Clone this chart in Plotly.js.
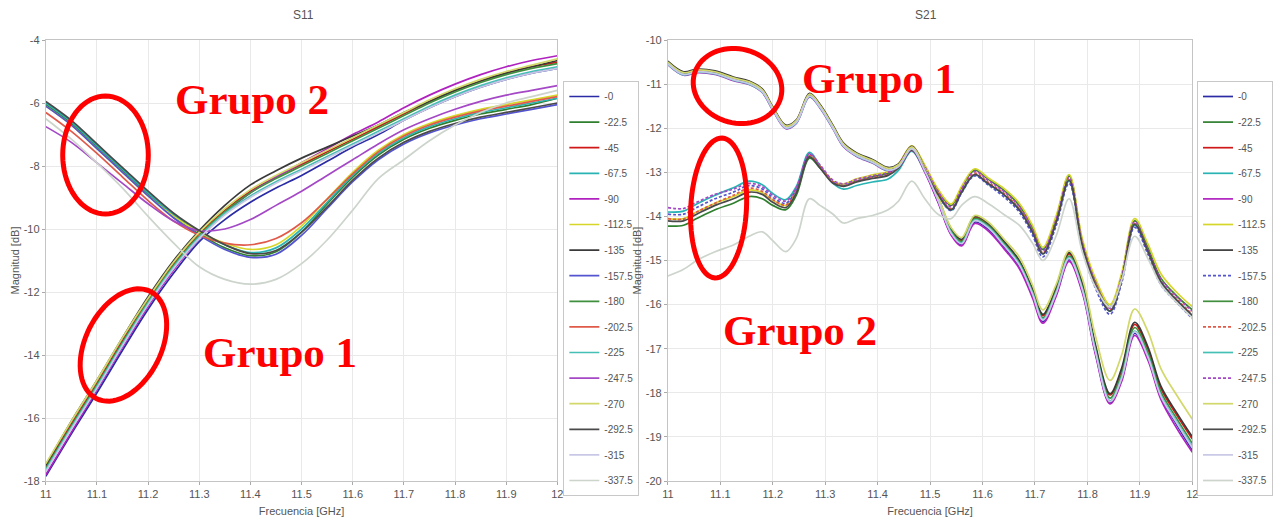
<!DOCTYPE html>
<html>
<head>
<meta charset="utf-8">
<script src="https://cdn.plot.ly/plotly-3.0.1.min.js"></script>
<style>html,body{margin:0;padding:0;background:#fff;}#chart{width:1273px;height:524px;}</style>
</head>
<body>
<div id="chart"></div>
<script>
// ---------- DATA ----------
const seriesNames = ['-0','-22.5','-45','-67.5','-90','-112.5','-135','-157.5','-180','-202.5','-225','-247.5','-270','-292.5','-315','-337.5'];
const seriesColors = ['#2b2ba6','#2f7f2f','#d01818','#2ab3b3','#b022c0','#d6d62a','#3a3a3a','#5454d0','#3f8f3f','#e05a4a','#45c0b5','#a448c6','#d2d86a','#4a4a4a','#c8c8e6','#ccd4cc'];
const s21Dashed = ['-157.5','-202.5','-247.5'];

const xTicks = [11,11.1,11.2,11.3,11.4,11.5,11.6,11.7,11.8,11.9,12];
const xTickText = ['11','11.1','11.2','11.3','11.4','11.5','11.6','11.7','11.8','11.9','12'];
const y11Ticks = [-18,-16,-14,-12,-10,-8,-6,-4];
const y11TickText = ['-18','-16','-14','-12','-10','-8','-6','-4'];
const y21Ticks = [-20,-19,-18,-17,-16,-15,-14,-13,-12,-11,-10];
const y21TickText = ['-20','-19','-18','-17','-16','-15','-14','-13','-12','-11','-10'];

// S11 frequency points (GHz)
const freqS11 = [11.00,11.05,11.10,11.15,11.20,11.25,11.30,11.35,11.40,11.45,11.50,11.55,11.60,11.65,11.70,11.75,11.80,11.85,11.90,11.95,12.00];
const s11_0     = [-17.85,-16.5,-15.2,-13.85,-12.55,-11.4,-10.4,-9.7,-9.15,-8.7,-8.3,-7.85,-7.4,-7.0,-6.55,-6.15,-5.8,-5.5,-5.25,-5.05,-4.9];
const s11_22_5  = [-6.05,-6.65,-7.4,-8.15,-8.9,-9.6,-10.15,-10.6,-10.85,-10.72,-10.1,-9.2,-8.35,-7.65,-7.15,-6.8,-6.55,-6.35,-6.2,-6.05,-5.85];
const s11_45    = [-17.55,-16.2,-14.9,-13.55,-12.25,-11.1,-10.15,-9.4,-8.8,-8.35,-7.95,-7.55,-7.15,-6.75,-6.35,-5.95,-5.6,-5.3,-5.05,-4.85,-4.7];
const s11_67_5  = [-6.0,-6.6,-7.35,-8.1,-8.85,-9.55,-10.1,-10.5,-10.75,-10.6,-10.0,-9.15,-8.3,-7.6,-7.1,-6.75,-6.5,-6.3,-6.15,-6.0,-5.85];
const s11_90    = [-17.8,-16.45,-15.1,-13.75,-12.45,-11.3,-10.3,-9.5,-8.85,-8.35,-7.9,-7.45,-7.0,-6.6,-6.15,-5.75,-5.4,-5.1,-4.85,-4.65,-4.5];
const s11_112_5 = [-6.1,-6.7,-7.45,-8.2,-8.95,-9.6,-10.1,-10.45,-10.65,-10.5,-9.9,-9.05,-8.2,-7.5,-7.0,-6.65,-6.4,-6.2,-6.05,-5.9,-5.75];
const s11_135   = [-17.5,-16.1,-14.8,-13.45,-12.15,-11.0,-10.05,-9.25,-8.6,-8.15,-7.75,-7.4,-7.05,-6.7,-6.3,-5.95,-5.6,-5.3,-5.05,-4.85,-4.65];
const s11_157_5 = [-6.1,-6.7,-7.45,-8.2,-8.95,-9.65,-10.2,-10.65,-10.9,-10.8,-10.2,-9.35,-8.5,-7.8,-7.3,-6.95,-6.7,-6.5,-6.35,-6.2,-6.05];
const s11_180   = [-17.6,-16.25,-14.95,-13.6,-12.3,-11.15,-10.2,-9.45,-8.85,-8.4,-8.0,-7.6,-7.2,-6.8,-6.4,-6.0,-5.65,-5.35,-5.1,-4.9,-4.75];
const s11_202_5 = [-6.3,-6.9,-7.6,-8.35,-9.1,-9.75,-10.2,-10.45,-10.5,-10.3,-9.8,-9.05,-8.25,-7.55,-7.05,-6.7,-6.45,-6.25,-6.1,-5.95,-5.8];
const s11_225   = [-17.65,-16.3,-15.0,-13.65,-12.35,-11.2,-10.25,-9.5,-8.95,-8.5,-8.1,-7.7,-7.3,-6.9,-6.5,-6.1,-5.75,-5.45,-5.2,-5.0,-4.85];
const s11_247_5 = [-6.75,-7.25,-7.9,-8.55,-9.2,-9.75,-10.05,-10.0,-9.7,-9.25,-8.8,-8.3,-7.8,-7.3,-6.85,-6.5,-6.2,-5.95,-5.75,-5.6,-5.45];
const s11_270   = [-17.45,-16.1,-14.8,-13.45,-12.2,-11.05,-10.1,-9.35,-8.75,-8.3,-7.9,-7.5,-7.1,-6.7,-6.3,-5.9,-5.55,-5.25,-5.0,-4.8,-4.6];
const s11_292_5 = [-5.95,-6.55,-7.3,-8.05,-8.8,-9.5,-10.05,-10.5,-10.78,-10.68,-10.1,-9.3,-8.45,-7.75,-7.25,-6.9,-6.65,-6.45,-6.3,-6.15,-6.0];
const s11_315   = [-17.7,-16.35,-15.05,-13.7,-12.4,-11.25,-10.3,-9.55,-9.0,-8.55,-8.15,-7.75,-7.35,-6.95,-6.55,-6.15,-5.8,-5.5,-5.25,-5.05,-4.9];
const s11_337_5 = [-6.5,-7.15,-7.9,-8.7,-9.6,-10.45,-11.2,-11.6,-11.75,-11.6,-11.1,-10.35,-9.4,-8.4,-7.8,-7.2,-6.7,-6.3,-6.0,-5.8,-5.6];

// S21 frequency points (GHz)
const freqS21 = [11.00,11.03,11.055,11.09,11.125,11.155,11.18,11.2,11.225,11.245,11.27,11.29,11.315,11.335,11.36,11.39,11.42,11.44,11.465,11.49,11.515,11.54,11.56,11.585,11.61,11.64,11.67,11.695,11.715,11.74,11.765,11.79,11.815,11.843,11.865,11.89,11.915,11.94,11.97,12.0];
const s21_0     = [-10.52,-10.77,-10.71,-10.75,-10.89,-10.98,-11.16,-11.56,-11.98,-11.86,-11.26,-11.51,-11.99,-12.4,-12.62,-12.77,-12.95,-12.87,-12.47,-12.98,-13.66,-14.4,-14.64,-14.13,-14.28,-14.68,-15.13,-15.78,-16.38,-15.78,-14.98,-15.68,-17.08,-18.22,-17.7,-16.65,-17.2,-18.1,-18.72,-19.3];
const s21_22_5  = [-14.22,-14.2,-14.05,-13.85,-13.7,-13.55,-13.6,-13.75,-13.85,-13.52,-12.68,-12.9,-13.22,-13.3,-13.2,-13.1,-13.02,-12.84,-12.42,-12.86,-13.4,-13.75,-13.35,-12.95,-13.15,-13.4,-13.75,-14.25,-14.75,-14.05,-13.08,-14.55,-15.45,-16.05,-15.35,-14.1,-14.7,-15.4,-15.8,-16.12];
const s21_45    = [-10.5,-10.74,-10.68,-10.72,-10.86,-10.95,-11.13,-11.53,-11.95,-11.83,-11.23,-11.48,-11.96,-12.36,-12.58,-12.73,-12.91,-12.83,-12.43,-12.93,-13.58,-14.32,-14.55,-14.03,-14.18,-14.58,-15.02,-15.66,-16.25,-15.65,-14.85,-15.55,-16.95,-18.05,-17.5,-16.45,-17.0,-17.9,-18.5,-19.05];
const s21_67_5  = [-13.9,-13.88,-13.72,-13.52,-13.35,-13.2,-13.28,-13.48,-13.62,-13.32,-12.55,-12.85,-13.25,-13.38,-13.3,-13.22,-13.15,-12.95,-12.52,-12.98,-13.52,-13.86,-13.46,-13.06,-13.26,-13.5,-13.85,-14.35,-14.85,-14.15,-13.2,-14.65,-15.55,-16.15,-15.45,-14.2,-14.8,-15.5,-15.9,-16.25];
const s21_90    = [-10.56,-10.8,-10.74,-10.78,-10.92,-11.01,-11.19,-11.59,-12.01,-11.89,-11.29,-11.54,-12.02,-12.42,-12.64,-12.79,-12.97,-12.89,-12.5,-13.0,-13.68,-14.42,-14.67,-14.16,-14.32,-14.72,-15.18,-15.84,-16.42,-15.82,-15.02,-15.72,-17.12,-18.25,-17.75,-16.7,-17.25,-18.15,-18.8,-19.35];
const s21_112_5 = [-14.05,-14.05,-13.9,-13.7,-13.55,-13.4,-13.46,-13.63,-13.75,-13.42,-12.62,-12.86,-13.2,-13.26,-13.15,-13.06,-12.98,-12.8,-12.4,-12.84,-13.38,-13.72,-13.32,-12.92,-13.12,-13.36,-13.7,-14.2,-14.7,-14.0,-13.05,-14.5,-15.4,-16.0,-15.3,-14.05,-14.62,-15.3,-15.72,-16.05];
const s21_135   = [-10.48,-10.72,-10.66,-10.7,-10.84,-10.93,-11.11,-11.51,-11.93,-11.81,-11.21,-11.46,-11.94,-12.34,-12.56,-12.71,-12.89,-12.81,-12.41,-12.92,-13.56,-14.28,-14.52,-14.0,-14.15,-14.55,-15.0,-15.64,-16.22,-15.62,-14.82,-15.5,-16.9,-18.02,-17.45,-16.4,-16.95,-17.85,-18.45,-19.0];
const s21_157_5 = [-13.95,-13.95,-13.8,-13.6,-13.45,-13.3,-13.38,-13.57,-13.7,-13.38,-12.6,-12.86,-13.22,-13.3,-13.2,-13.12,-13.05,-12.87,-12.47,-12.93,-13.5,-13.87,-13.47,-13.08,-13.28,-13.55,-13.9,-14.42,-14.92,-14.22,-13.25,-14.72,-15.62,-16.22,-15.52,-14.25,-14.85,-15.55,-15.95,-16.32];
const s21_180   = [-10.53,-10.77,-10.71,-10.75,-10.89,-10.98,-11.16,-11.56,-11.98,-11.86,-11.26,-11.51,-11.99,-12.39,-12.61,-12.76,-12.94,-12.84,-12.44,-12.94,-13.6,-14.33,-14.57,-14.05,-14.2,-14.6,-15.05,-15.7,-16.3,-15.7,-14.9,-15.6,-17.0,-18.12,-17.58,-16.52,-17.08,-17.98,-18.58,-19.15];
const s21_202_5 = [-14.05,-14.06,-13.9,-13.7,-13.52,-13.36,-13.43,-13.62,-13.74,-13.42,-12.62,-12.87,-13.22,-13.3,-13.2,-13.12,-13.05,-12.87,-12.47,-12.92,-13.47,-13.82,-13.42,-13.02,-13.22,-13.47,-13.82,-14.32,-14.82,-14.12,-13.17,-14.62,-15.52,-16.12,-15.42,-14.17,-14.77,-15.47,-15.87,-16.22];
const s21_225   = [-10.55,-10.79,-10.73,-10.77,-10.91,-11.0,-11.18,-11.58,-12.0,-11.88,-11.28,-11.53,-12.01,-12.41,-12.63,-12.78,-12.96,-12.86,-12.46,-12.96,-13.62,-14.36,-14.6,-14.08,-14.23,-14.63,-15.08,-15.73,-16.33,-15.73,-14.93,-15.63,-17.03,-18.18,-17.65,-16.6,-17.15,-18.05,-18.65,-19.22];
const s21_247_5 = [-13.8,-13.82,-13.68,-13.5,-13.38,-13.25,-13.33,-13.52,-13.65,-13.35,-12.58,-12.83,-13.18,-13.26,-13.16,-13.08,-13.0,-12.82,-12.43,-12.88,-13.43,-13.78,-13.38,-12.98,-13.18,-13.43,-13.78,-14.28,-14.78,-14.08,-13.12,-14.58,-15.48,-16.08,-15.38,-14.12,-14.72,-15.42,-15.82,-16.15];
const s21_270   = [-10.5,-10.74,-10.68,-10.72,-10.86,-10.95,-11.13,-11.53,-11.95,-11.83,-11.23,-11.48,-11.96,-12.36,-12.58,-12.73,-12.91,-12.83,-12.43,-12.92,-13.55,-14.25,-14.48,-13.98,-14.12,-14.5,-14.92,-15.55,-16.12,-15.55,-14.78,-15.4,-16.7,-17.72,-17.15,-16.1,-16.6,-17.45,-18.05,-18.6];
const s21_292_5 = [-14.1,-14.1,-13.95,-13.75,-13.6,-13.45,-13.5,-13.68,-13.8,-13.47,-12.65,-12.9,-13.25,-13.32,-13.22,-13.14,-13.07,-12.9,-12.5,-12.95,-13.5,-13.85,-13.45,-13.05,-13.25,-13.5,-13.85,-14.35,-14.85,-14.15,-13.18,-14.65,-15.55,-16.15,-15.45,-14.18,-14.78,-15.48,-15.9,-16.25];
const s21_315   = [-10.54,-10.78,-10.72,-10.76,-10.9,-10.99,-11.17,-11.57,-11.99,-11.87,-11.27,-11.52,-12.0,-12.4,-12.62,-12.77,-12.95,-12.87,-12.47,-12.97,-13.63,-14.38,-14.62,-14.1,-14.25,-14.65,-15.1,-15.75,-16.35,-15.75,-14.95,-15.65,-17.05,-18.2,-17.68,-16.62,-17.18,-18.08,-18.68,-19.25];
const s21_337_5 = [-15.35,-15.2,-15.0,-14.8,-14.65,-14.45,-14.35,-14.55,-14.8,-14.5,-13.6,-13.75,-13.95,-14.15,-14.05,-13.98,-13.85,-13.65,-13.2,-13.6,-13.95,-14.05,-13.75,-13.55,-13.7,-13.95,-14.2,-14.6,-15.0,-14.45,-13.6,-14.8,-15.6,-16.05,-15.45,-14.45,-14.95,-15.55,-15.95,-16.3];

const s11Series = [s11_0,s11_22_5,s11_45,s11_67_5,s11_90,s11_112_5,s11_135,s11_157_5,s11_180,s11_202_5,s11_225,s11_247_5,s11_270,s11_292_5,s11_315,s11_337_5];
const s21Series = [s21_0,s21_22_5,s21_45,s21_67_5,s21_90,s21_112_5,s21_135,s21_157_5,s21_180,s21_202_5,s21_225,s21_247_5,s21_270,s21_292_5,s21_315,s21_337_5];

// ---------- LAYOUT ----------
const W = 1273, H = 524;
const FONT = 'Liberation Sans Narrow, Arial Narrow, Liberation Sans, Arial, sans-serif';
const TXT = '#555555';
const px = x => x / W;
const py = y => 1 - y / H;

const traces = [];
seriesNames.forEach((name, i) => {
  traces.push({
    type: 'scatter', mode: 'lines', name: name, x: freqS11, y: s11Series[i],
    xaxis: 'x', yaxis: 'y', legend: 'legend', legendgroup: 'a' + i,
    line: {color: seriesColors[i], width: 1.7, shape: 'spline', smoothing: 1}
  });
});
seriesNames.forEach((name, i) => {
  traces.push({
    type: 'scatter', mode: 'lines', name: name, x: freqS21, y: s21Series[i],
    xaxis: 'x2', yaxis: 'y2', legend: 'legend2', legendgroup: 'b' + i,
    line: {color: seriesColors[i], width: 1.7, shape: 'spline', smoothing: 1,
           dash: s21Dashed.includes(name) ? '3px,2px' : 'solid'}
  });
});

function axisBase() {
  return {
    showgrid: true, gridcolor: '#e9e9e9', gridwidth: 1,
    showline: true, linecolor: '#c4c4c4', linewidth: 1, mirror: true,
    ticks: 'outside', ticklen: 3, tickcolor: '#aaaaaa',
    tickfont: {family: FONT, size: 11, color: TXT},
    zeroline: false, fixedrange: true
  };
}

const xa1 = Object.assign(axisBase(), {domain: [px(46), px(560)], range: [11, 12], anchor: 'y',
  tickmode: 'array', tickvals: xTicks, ticktext: xTickText,
  title: {text: 'Frecuencia [GHz]', font: {family: FONT, size: 11, color: TXT}, standoff: 8}});
const ya1 = Object.assign(axisBase(), {domain: [py(481), py(40)], range: [-18, -4], anchor: 'x',
  tickmode: 'array', tickvals: y11Ticks, ticktext: y11TickText,
  title: {text: 'Magnitud [dB]', font: {family: FONT, size: 11, color: TXT}, standoff: 1}});
const xa2 = Object.assign(axisBase(), {domain: [px(671), px(1198)], range: [11, 12], anchor: 'y2',
  tickmode: 'array', tickvals: xTicks, ticktext: xTickText,
  title: {text: 'Frecuencia [GHz]', font: {family: FONT, size: 11, color: TXT}, standoff: 8}});
const ya2 = Object.assign(axisBase(), {domain: [py(481), py(40)], range: [-20, -10], anchor: 'x2',
  tickmode: 'array', tickvals: y21Ticks, ticktext: y21TickText,
  title: {text: 'Magnitud [dB]', font: {family: FONT, size: 11, color: TXT}, standoff: 1}});

function legendCfg(xpix) {
  return {x: px(xpix), y: py(81), xanchor: 'left', yanchor: 'top',
    bgcolor: '#ffffff', bordercolor: '#c8c8c8', borderwidth: 1,
    font: {family: FONT, size: 10, color: TXT}, tracegroupgap: 6.6, itemwidth: 30,
    itemclick: false, itemdoubleclick: false};
}

// red hand-drawn style ellipses (decoration), given in pixel space
function ellipsePath(cx, cy, rx, ry, angDeg) {
  const a = angDeg * Math.PI / 180;
  let d = '';
  for (let k = 0; k <= 72; k++) {
    const t = 2 * Math.PI * k / 72;
    const ex = rx * Math.cos(t), ey = ry * Math.sin(t);
    const X = cx + ex * Math.cos(a) - ey * Math.sin(a);
    const Y = cy + ex * Math.sin(a) + ey * Math.cos(a);
    d += (k === 0 ? 'M' : 'L') + px(X).toFixed(5) + ',' + py(Y).toFixed(5);
  }
  return d + 'Z';
}
const redLine = {color: '#ff0000', width: 5};
const shapes = [
  {type: 'path', xref: 'paper', yref: 'paper', path: ellipsePath(106, 155, 43, 59, 0), line: redLine},
  {type: 'path', xref: 'paper', yref: 'paper', path: ellipsePath(124, 345, 38, 60, 27), line: redLine},
  {type: 'path', xref: 'paper', yref: 'paper', path: ellipsePath(741, 86, 45, 37, 15), line: redLine},
  {type: 'path', xref: 'paper', yref: 'paper', path: ellipsePath(722, 208, 28, 70, 3), line: redLine}
];

const grupoFont = {family: 'Liberation Serif, Times New Roman, serif', size: 43, color: '#ff0000'};
function grupo(text, x, y) {
  return {text: '<b>' + text + '</b>', x: px(x), y: py(y), xref: 'paper', yref: 'paper',
    xanchor: 'center', yanchor: 'middle', showarrow: false, font: grupoFont};
}
const annotations = [
  {text: 'S11', x: px(305), y: py(15), xref: 'paper', yref: 'paper', xanchor: 'center', yanchor: 'middle', showarrow: false, font: {family: FONT, size: 12, color: TXT}},
  {text: 'S21', x: px(930), y: py(15), xref: 'paper', yref: 'paper', xanchor: 'center', yanchor: 'middle', showarrow: false, font: {family: FONT, size: 12, color: TXT}},
  grupo('Grupo 2', 253, 99),
  grupo('Grupo 1', 281, 352),
  grupo('Grupo 1', 883, 79),
  grupo('Grupo 2', 804, 330)
];

const layout = {
  width: W, height: H,
  margin: {l: 0, r: 0, t: 0, b: 0},
  paper_bgcolor: '#ffffff', plot_bgcolor: '#ffffff',
  font: {family: FONT, color: TXT},
  xaxis: xa1, yaxis: ya1, xaxis2: xa2, yaxis2: ya2,
  legend: legendCfg(566), legend2: legendCfg(1203),
  showlegend: true,
  shapes: shapes, annotations: annotations
};

Plotly.newPlot('chart', traces, layout, {displayModeBar: false, staticPlot: true});
</script>
</body>
</html>
